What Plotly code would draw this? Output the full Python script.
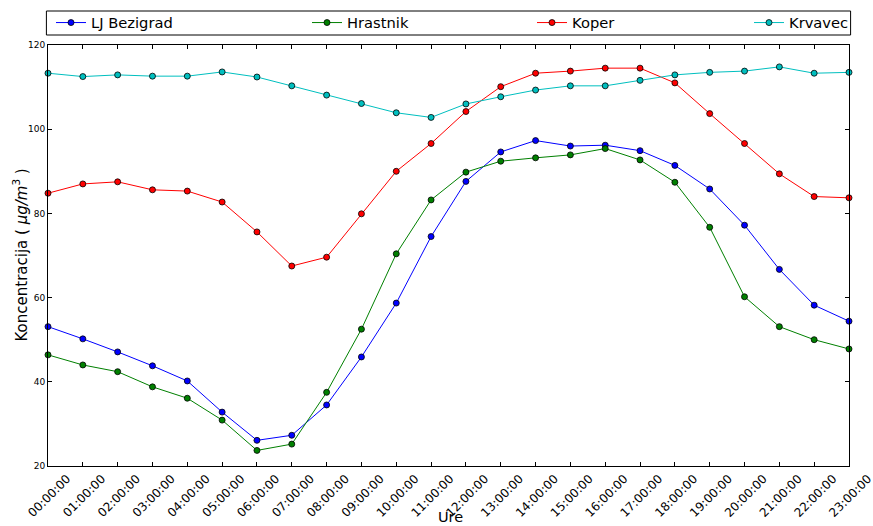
import plotly.graph_objects as go

hours = ["%02d:00:00" % h for h in range(24)]

lj_bezigrad = [53.1, 50.2, 47.1, 43.8, 40.2, 32.8, 26.1, 27.3, 34.5, 45.9, 58.7, 74.5,
               87.6, 94.6, 97.3, 96.0, 96.2, 94.9, 91.4, 85.8, 77.2, 66.7, 58.2, 54.4]
hrastnik = [46.4, 44.0, 42.4, 38.8, 36.1, 30.9, 23.7, 25.2, 37.5, 52.5, 70.4, 83.2,
            89.8, 92.4, 93.2, 93.9, 95.4, 92.7, 87.4, 76.7, 60.2, 53.1, 50.0, 47.8]
koper = [84.8, 87.0, 87.5, 85.6, 85.3, 82.7, 75.6, 67.5, 69.6, 79.9, 90.0, 96.6,
         104.2, 110.1, 113.3, 113.8, 114.5, 114.5, 111.0, 103.7, 96.6, 89.4, 84.0, 83.7]
krvavec = [113.3, 112.5, 112.9, 112.6, 112.6, 113.6, 112.4, 110.3, 108.1, 106.1, 103.9, 102.8,
           106.0, 107.7, 109.3, 110.3, 110.3, 111.6, 112.9, 113.5, 113.8, 114.8, 113.3, 113.5]

series_names = ["LJ Bezigrad", "Hrastnik", "Koper", "Krvavec"]
series_values = [lj_bezigrad, hrastnik, koper, krvavec]
colors = ["#0000ff", "#008000", "#ff0000", "#00bfbf"]
y_ticks = [20, 40, 60, 80, 100, 120]
x_title = "Ure"
y_title = "Koncentracija ( <i>μg/m</i><sup>3</sup> )"

# layout geometry (pixels)
W, H = 873, 526
L, R, T, B = 48, 24, 45, 60
pw = W - L - R
ph = H - T - B
legend_text_x = [91, 347, 572, 789]
legend_keys = ["legend", "legend2", "legend3", "legend4"]

fig = go.Figure()
for i, (name, vals, col) in enumerate(zip(series_names, series_values, colors)):
    fig.add_trace(go.Scatter(
        x=hours, y=vals, name=name, mode="lines+markers",
        line=dict(color=col, width=1),
        marker=dict(symbol="circle", size=6, color=col, line=dict(color="black", width=0.8)),
        cliponaxis=False,
        legend=legend_keys[i],
    ))

legend_y = (H - B - 23) / ph
layout_legends = {}
for i, key in enumerate(legend_keys):
    layout_legends[key] = dict(
        x=(legend_text_x[i] - 40 - L) / pw, y=legend_y, xanchor="left", yanchor="middle",
        orientation="h", bgcolor="rgba(0,0,0,0)", borderwidth=0,
        font=dict(family="DejaVu Sans", size=14.7, color="black"),
        itemwidth=30,
    )

fig.update_layout(
    width=W, height=H,
    margin=dict(l=L, r=R, t=T, b=B, autoexpand=False),
    paper_bgcolor="white", plot_bgcolor="white",
    font=dict(family="DejaVu Sans", color="black"),
    showlegend=True,
    **layout_legends,
)

fig.add_shape(type="rect", xref="paper", yref="paper",
              x0=-0.002, x1=1.002, y0=(H - B - 35) / ph, y1=(H - B - 11) / ph,
              line=dict(color="black", width=1), fillcolor="rgba(0,0,0,0)", layer="above")

# axis titles as annotations for precise placement
fig.add_annotation(text=x_title, xref="paper", yref="paper",
                   x=(450 - L) / pw, y=(H - B - 517) / ph, xanchor="center", yanchor="middle",
                   showarrow=False, font=dict(size=14.5, family="DejaVu Sans", color="black"))
fig.add_annotation(text=y_title, xref="paper", yref="paper",
                   x=(20 - L) / pw, y=0.5, xanchor="center", yanchor="middle", textangle=-90,
                   showarrow=False, font=dict(size=15, family="DejaVu Sans", color="black"))

fig.update_xaxes(
    type="category", categoryorder="array", categoryarray=hours,
    range=[0, 23], tickangle=-45, tickfont=dict(size=12, family="DejaVu Sans"),
    ticklabelshift=19, ticklabelstandoff=0,
    ticks="inside", ticklen=4, tickcolor="black", tickwidth=1,
    showline=True, linecolor="black", linewidth=1, mirror="ticks",
    showgrid=False, zeroline=False, automargin=False,
)
fig.update_yaxes(
    range=[20, 120], tickvals=y_ticks, ticktext=[str(v) for v in y_ticks],
    tickfont=dict(size=9, family="DejaVu Sans"),
    ticks="inside", ticklen=4, tickcolor="black", tickwidth=1,
    showline=True, linecolor="black", linewidth=1, mirror="ticks",
    showgrid=False, zeroline=False, automargin=False,
)

fig.write_html("out.html")
